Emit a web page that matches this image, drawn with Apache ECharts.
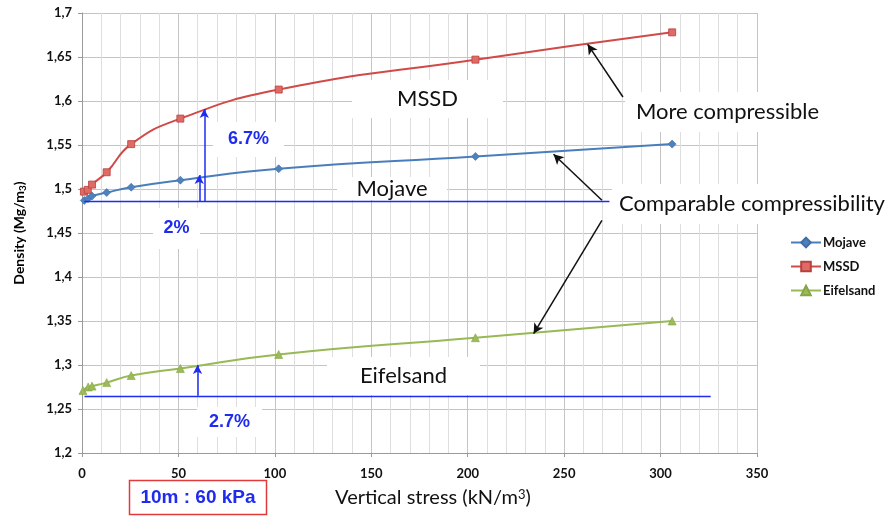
<!DOCTYPE html>
<html>
<head>
<meta charset="utf-8">
<script src="https://cdn.jsdelivr.net/npm/echarts@6/dist/echarts.min.js"></script>
<style>
  html, body { margin: 0; padding: 0; background: #ffffff; }
  #chart { width: 894px; height: 516px; }
</style>
</head>
<body>
<div id="chart"></div>
<script>
// Oedometer curves: dry density against vertical stress
const mojaveStress  = [1.2, 3.1, 5.2, 12.8, 25.5, 51, 102, 204, 306];
const mojaveDensity = [1.487, 1.489, 1.492, 1.496, 1.502, 1.510, 1.523, 1.537, 1.551];

const mssdStress  = [1.0, 3.0, 5.2, 12.8, 25.5, 51, 102, 204, 306];
const mssdDensity = [1.497, 1.499, 1.505, 1.519, 1.551, 1.580, 1.613, 1.647, 1.678];

const eifelStress  = [0.5, 3.2, 5.2, 12.8, 25.5, 51, 102, 204, 306];
const eifelDensity = [1.271, 1.275, 1.276, 1.280, 1.288, 1.296, 1.312, 1.331, 1.350];

const yTickLabels = ['1,2', '1,25', '1,3', '1,35', '1,4', '1,45', '1,5', '1,55', '1,6', '1,65', '1,7'];
const xTickLabels = ['0', '50', '100', '150', '200', '250', '300', '350'];

// Reference density at the start of loading: [fromStress, toStress, density]
const baseLines = [
  [1.2, 273.5, 1.486],
  [1.3, 326.0, 1.265]
];
// Increase at 10 m depth (about 60 kPa): [stress, fromDensity, toDensity]
const gainArrows = [
  [63.4, 1.486, 1.591],
  [60.8, 1.486, 1.516],
  [59.9, 1.265, 1.300]
];
// Pointers from the comments to the curves: [fromStress, fromDensity, toStress, toDensity]
const pointers = [
  [280.5, 1.6045, 262.2, 1.6644],
  [269.6, 1.4872, 244.5, 1.5394],
  [269.6, 1.4644, 234.2, 1.3357]
];

const zip = (xs, ys) => xs.map((x, i) => [x, ys[i]]);

const annoBlue = '#1f2cf0';
const markLines = [];
baseLines.forEach(([x0, x1, y]) => {
  markLines.push([
    { coord: [x0, y], symbol: 'none', lineStyle: { color: annoBlue, width: 1.3, type: 'solid' } },
    { coord: [x1, y], symbol: 'none' }
  ]);
});
gainArrows.forEach(([x, y0, y1]) => {
  markLines.push([
    { coord: [x, y0], symbol: 'none', lineStyle: { color: annoBlue, width: 1.5, type: 'solid' } },
    { coord: [x, y1], symbol: 'arrow', symbolSize: [7, 9] }
  ]);
});
pointers.forEach(([x0, y0, x1, y1]) => {
  markLines.push([
    { coord: [x0, y0], symbol: 'none', lineStyle: { color: '#111111', width: 1.5, type: 'solid' } },
    { coord: [x1, y1], symbol: 'arrow', symbolSize: [8, 10] }
  ]);
});

const tickFont = { fontFamily: 'Lato', fontWeight: 'bold', fontSize: 13, color: '#111111' };

// White label box with centred text
function labelBox(x0, y0, x1, y1, text, font, color) {
  return {
    type: 'group',
    z: 1,
    children: [
      { type: 'rect', z: 1, shape: { x: x0, y: y0, width: x1 - x0, height: y1 - y0 },
        style: { fill: '#ffffff' } },
      { type: 'text', z: 3, x: (x0 + x1) / 2, y: (y0 + y1) / 2,
        style: { text: text, font: font, fill: color, align: 'center', verticalAlign: 'middle' } }
    ]
  };
}

const calloutFont = '22px Lato';
const pctFont = 'bold 18px "Liberation Sans"';

const chart = echarts.init(document.getElementById('chart'), null, { renderer: 'canvas' });
chart.setOption({
  animation: false,
  backgroundColor: '#ffffff',
  grid: { left: 82, top: 13, width: 675, height: 440, containLabel: false },
  xAxis: {
    type: 'value', min: 0, max: 350, interval: 50,
    axisLine: { show: true, lineStyle: { color: '#9a9a9a', width: 1 } },
    axisTick: { show: true, length: 4, lineStyle: { color: '#9a9a9a' } },
    axisLabel: Object.assign({ margin: 14, formatter: v => xTickLabels[Math.round(v / 50)] }, tickFont),
    splitLine: { show: true, lineStyle: { color: '#c4c4c4', width: 1 } },
    minorTick: { show: false, splitNumber: 5 },
    minorSplitLine: { show: true, lineStyle: { color: '#dedede', width: 1 } }
  },
  yAxis: {
    type: 'value', min: 1.2, max: 1.7, interval: 0.05,
    axisLine: { show: true, lineStyle: { color: '#9a9a9a', width: 1 } },
    axisTick: { show: true, length: 4, lineStyle: { color: '#9a9a9a' } },
    axisLabel: Object.assign({ margin: 10, formatter: v => yTickLabels[Math.round((v - 1.2) / 0.05)] }, tickFont),
    splitLine: { show: true, lineStyle: { color: '#c4c4c4', width: 1 } }
  },
  legend: {
    orient: 'vertical', left: 785, top: 231,
    itemWidth: 30, itemHeight: 12, itemGap: 11,
    textStyle: { fontFamily: 'Lato', fontWeight: 'bold', fontSize: 13, color: '#111111', padding: [0, 0, 0, -3] },
    data: ['Mojave', 'MSSD', 'Eifelsand']
  },
  series: [
    {
      name: 'Mojave', type: 'line', smooth: 0.5,
      data: zip(mojaveStress, mojaveDensity),
      symbol: 'diamond', symbolSize: 8,
      lineStyle: { color: '#4a7ebb', width: 2 },
      itemStyle: { color: '#4f81bd', borderColor: '#3e6fa8', borderWidth: 0.6 },
      z: 3
    },
    {
      name: 'MSSD', type: 'line', smooth: 0.5,
      data: zip(mssdStress, mssdDensity),
      symbol: 'rect', symbolSize: 7,
      lineStyle: { color: '#d04a48', width: 2 },
      itemStyle: { color: '#e06a66', borderColor: '#b8403d', borderWidth: 0.8 },
      z: 3
    },
    {
      name: 'Eifelsand', type: 'line', smooth: 0.5,
      data: zip(eifelStress, eifelDensity),
      symbol: 'triangle', symbolSize: 8,
      lineStyle: { color: '#98b954', width: 2 },
      itemStyle: { color: '#9bbb59', borderColor: '#86a544', borderWidth: 0.6 },
      z: 3,
      markLine: {
        silent: true, animation: false,
        lineStyle: { type: 'solid' },
        label: { show: false },
        emphasis: { disabled: true },
        data: markLines
      }
    }
  ],
  graphic: [
    labelBox(352, 80, 503, 118, 'MSSD', calloutFont, '#111111'),
    labelBox(337, 177, 447, 200, 'Mojave', calloutFont, '#111111'),
    labelBox(327, 357, 480, 395, 'Eifelsand', calloutFont, '#111111'),
    labelBox(625, 92, 830, 132, 'More compressible', calloutFont, '#111111'),
    labelBox(612, 184, 892, 224, 'Comparable compressibility', calloutFont, '#111111'),
    labelBox(213, 122, 284, 157, '6.7%', pctFont, annoBlue),
    labelBox(153, 208, 200, 249, '2%', pctFont, annoBlue),
    labelBox(197, 407, 262, 437, '2.7%', pctFont, annoBlue),
    {
      type: 'rect', z: 5, shape: { x: 129.5, y: 480.5, width: 137, height: 34 },
      style: { fill: '#ffffff', stroke: '#e23a3a', lineWidth: 1.5 }
    },
    {
      type: 'text', z: 6, x: 198, y: 498,
      style: { text: '10m : 60 kPa', font: 'bold 19px "Liberation Sans"', fill: annoBlue,
               align: 'center', verticalAlign: 'middle' }
    },
    {
      type: 'text', z: 6, x: 433, y: 498,
      style: {
        text: 'Vertical stress (kN/m{sup|3})',
        font: '20px Lato', fill: '#111111', align: 'center', verticalAlign: 'middle',
        rich: { sup: { font: '13px Lato', fill: '#111111', verticalAlign: 'top', lineHeight: 20 } }
      }
    },
    {
      type: 'text', z: 6, x: 19, y: 233, rotation: Math.PI / 2,
      style: {
        text: 'Density (Mg/m{sub|3})',
        font: 'bold 14px Lato', fill: '#000000', align: 'center', verticalAlign: 'middle',
        rich: { sub: { font: 'bold 10px Lato', fill: '#000000', verticalAlign: 'bottom', lineHeight: 17 } }
      }
    }
  ]
});
</script>
</body>
</html>
